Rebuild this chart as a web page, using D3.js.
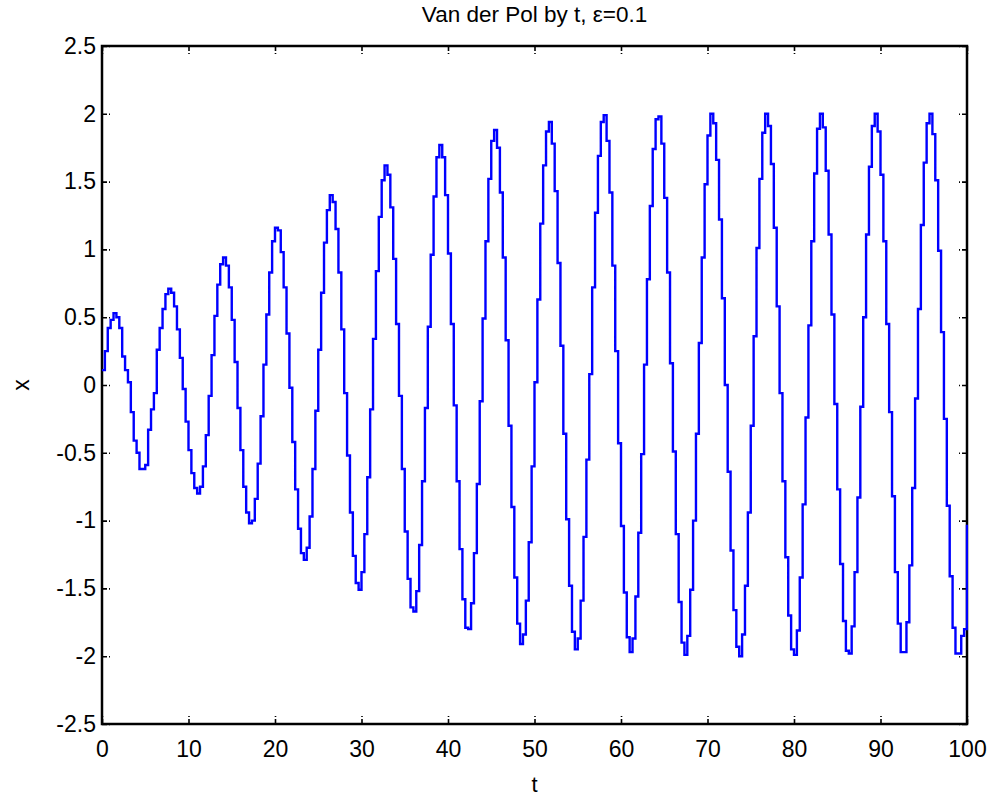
<!DOCTYPE html>
<html><head><meta charset="utf-8">
<script src="https://cdn.jsdelivr.net/npm/d3@7"></script>
<style>
body{margin:0;background:#fff}
svg{display:block}
text{font-family:"Liberation Sans",Arial,Helvetica,sans-serif;fill:#000}
</style>
</head><body>
<svg id="c" width="991" height="798"></svg>
<script>
const chartTitle = "Van der Pol by t, \u03B5=0.1";
const xAxisLabel = "t";
const yAxisLabel = "x";
const xTicks = [0, 10, 20, 30, 40, 50, 60, 70, 80, 90, 100];
const yTicks = [-2.5, -2, -1.5, -1, -0.5, 0, 0.5, 1, 1.5, 2, 2.5];
const yTickLabels = ["-2.5", "-2", "-1.5", "-1", "-0.5", "0", "0.5", "1", "1.5", "2", "2.5"];
const tStart = 0;
const tStep = 1 / 3;
const xValues = [
  0.11, 0.25, 0.42, 0.48, 0.53, 0.50, 0.42, 0.21, 0.11, 0.02,
  -0.20, -0.41, -0.50, -0.62, -0.62, -0.59, -0.33, -0.18, -0.06, 0.26,
  0.42, 0.56, 0.67, 0.71, 0.68, 0.58, 0.41, 0.20, -0.03, -0.27,
  -0.48, -0.65, -0.76, -0.80, -0.75, -0.60, -0.37, -0.08, 0.22, 0.51,
  0.74, 0.89, 0.94, 0.88, 0.72, 0.48, 0.17, -0.17, -0.48, -0.75,
  -0.94, -1.02, -1.00, -0.84, -0.58, -0.23, 0.15, 0.52, 0.83, 1.06,
  1.16, 1.14, 0.98, 0.72, 0.38, -0.02, -0.42, -0.77, -1.06, -1.24,
  -1.29, -1.20, -0.97, -0.62, -0.19, 0.26, 0.68, 1.05, 1.29, 1.40,
  1.35, 1.15, 0.83, 0.41, -0.06, -0.52, -0.94, -1.26, -1.46, -1.51,
  -1.38, -1.10, -0.68, -0.18, 0.34, 0.84, 1.24, 1.51, 1.62, 1.55,
  1.31, 0.93, 0.45, -0.08, -0.62, -1.08, -1.43, -1.64, -1.67, -1.52,
  -1.18, -0.71, -0.17, 0.43, 0.96, 1.39, 1.68, 1.77, 1.68, 1.40,
  0.97, 0.45, -0.15, -0.71, -1.21, -1.58, -1.79, -1.80, -1.61, -1.24,
  -0.73, -0.12, 0.49, 1.06, 1.52, 1.80, 1.88, 1.75, 1.42, 0.94,
  0.33, -0.30, -0.90, -1.42, -1.76, -1.91, -1.84, -1.59, -1.16, -0.60,
  0.02, 0.63, 1.19, 1.62, 1.87, 1.94, 1.78, 1.43, 0.90, 0.29,
  -0.36, -0.99, -1.48, -1.82, -1.95, -1.87, -1.59, -1.12, -0.55, 0.08,
  0.72, 1.27, 1.69, 1.94, 1.99, 1.80, 1.42, 0.88, 0.25, -0.43,
  -1.04, -1.53, -1.86, -1.97, -1.87, -1.56, -1.09, -0.51, 0.15, 0.78,
  1.32, 1.74, 1.96, 1.98, 1.78, 1.38, 0.83, 0.16, -0.49, -1.10,
  -1.60, -1.90, -1.99, -1.85, -1.51, -1.00, -0.36, 0.31, 0.94, 1.48,
  1.84, 2.00, 1.93, 1.66, 1.22, 0.64, 0.00, -0.64, -1.22, -1.66,
  -1.93, -2.00, -1.84, -1.48, -0.94, -0.30, 0.36, 1.01, 1.52, 1.86,
  2.00, 1.91, 1.63, 1.16, 0.58, -0.06, -0.71, -1.27, -1.70, -1.95,
  -1.99, -1.81, -1.42, -0.88, -0.24, 0.44, 1.06, 1.56, 1.89, 2.00,
  1.90, 1.58, 1.11, 0.52, -0.14, -0.77, -1.32, -1.74, -1.96, -1.98,
  -1.78, -1.38, -0.83, -0.16, 0.50, 1.11, 1.61, 1.91, 2.00, 1.87,
  1.55, 1.06, 0.45, -0.20, -0.82, -1.38, -1.76, -1.97, -1.97, -1.75,
  -1.33, -0.76, -0.10, 0.56, 1.18, 1.64, 1.93, 2.00, 1.85, 1.51,
  0.99, 0.39, -0.25, -0.89, -1.41, -1.79, -1.98, -1.98, -1.85, -1.80,
  -1.03
];

const data = xValues.map((v, i) => ({ t: tStart + i * tStep, x: v }));

const W = 991, H = 798;
const plot = { left: 102, right: 967, top: 46, bottom: 724 };
const svg = d3.select("#c");

const xs = d3.scaleLinear().domain([0, 100]).range([plot.left, plot.right]);
const ys = d3.scaleLinear().domain([-2.5, 2.5]).range([plot.bottom, plot.top]);

svg.append("rect").attr("width", W).attr("height", H).attr("fill", "#fff");

svg.append("defs").append("clipPath").attr("id", "clip")
  .append("rect")
  .attr("x", plot.left - 2).attr("y", plot.top)
  .attr("width", plot.right - plot.left + 3).attr("height", plot.bottom - plot.top);

// axes
const tickLen = 8;
const fontSize = 23;

function styleAxis(g) {
  g.select(".domain").remove();
  g.selectAll(".tick line").attr("stroke", "#000").attr("stroke-width", 1.6)
    .attr("stroke-dasharray", "5,2,2,10");
  g.selectAll(".tick text").attr("font-size", fontSize)
    .attr("font-family", "'Liberation Sans', Arial, sans-serif").attr("fill", "#000");
}

svg.append("g")
  .attr("transform", `translate(0,${plot.bottom})`)
  .call(d3.axisBottom(xs).tickValues(xTicks).tickFormat(d3.format("d"))
    .tickSizeInner(-tickLen).tickSizeOuter(0).tickPadding(17))
  .call(styleAxis);

svg.append("g")
  .attr("transform", `translate(0,${plot.top})`)
  .call(d3.axisTop(xs).tickValues(xTicks).tickFormat("")
    .tickSizeInner(-tickLen).tickSizeOuter(0))
  .call(styleAxis);

svg.append("g")
  .attr("transform", `translate(${plot.left},0)`)
  .call(d3.axisLeft(ys).tickValues(yTicks).tickFormat((d, i) => yTickLabels[i])
    .tickSizeInner(-tickLen).tickSizeOuter(0).tickPadding(6))
  .call(styleAxis);

svg.append("g")
  .attr("transform", `translate(${plot.right},0)`)
  .call(d3.axisRight(ys).tickValues(yTicks).tickFormat("")
    .tickSizeInner(-tickLen).tickSizeOuter(0))
  .call(styleAxis);

// frame
svg.append("rect")
  .attr("x", plot.left).attr("y", plot.top)
  .attr("width", plot.right - plot.left).attr("height", plot.bottom - plot.top)
  .attr("fill", "none").attr("stroke", "#000").attr("stroke-width", 2.5);

// data line
const line = d3.line()
  .x(d => xs(d.t))
  .y(d => ys(d.x))
  .curve(d3.curveStepAfter);

svg.append("path")
  .datum(data)
  .attr("clip-path", "url(#clip)")
  .attr("fill", "none")
  .attr("stroke", "#0000ff")
  .attr("stroke-width", 2.4)
  .attr("stroke-linejoin", "miter")
  .attr("d", line);

// title and labels
svg.append("text")
  .attr("x", (plot.left + plot.right) / 2).attr("y", 22)
  .attr("text-anchor", "middle").attr("font-size", 22.5)
  .text(chartTitle);

svg.append("text")
  .attr("x", (plot.left + plot.right) / 2).attr("y", 792)
  .attr("text-anchor", "middle").attr("font-size", 22)
  .text(xAxisLabel);

svg.append("text")
  .attr("transform", `translate(29,${(plot.top + plot.bottom) / 2}) rotate(-90)`)
  .attr("text-anchor", "middle").attr("font-size", fontSize)
  .text(yAxisLabel);
</script>
</body></html>
